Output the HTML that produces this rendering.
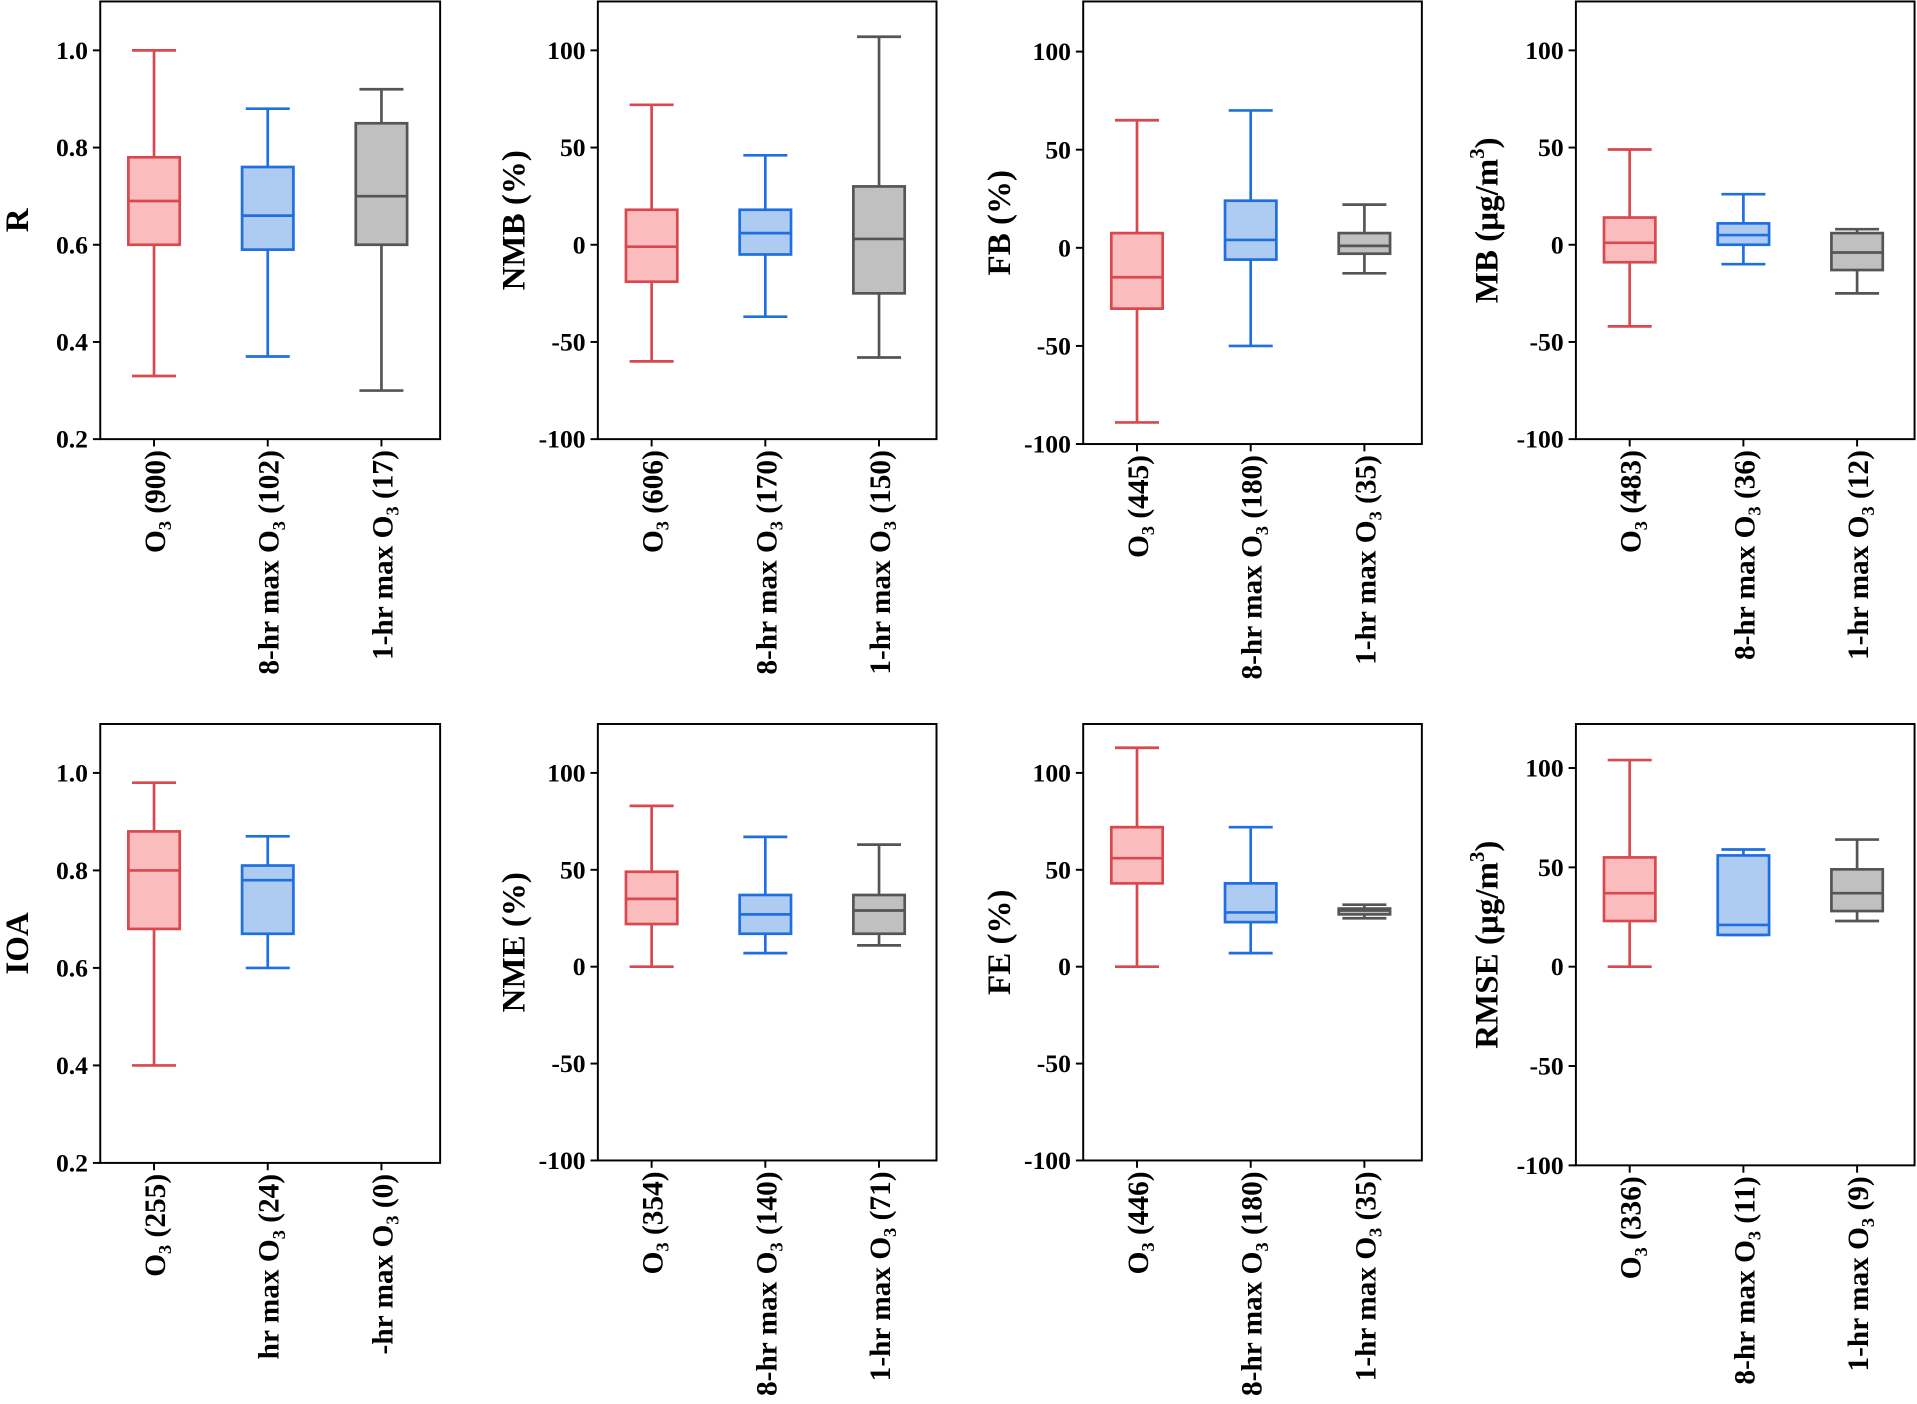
<!DOCTYPE html>
<html><head><meta charset="utf-8"><style>
html,body{margin:0;padding:0;background:#fff;}
svg{display:block;}
text{font-family:"Liberation Serif","Times New Roman",serif;font-weight:bold;fill:#000;}
</style></head><body>
<svg id="fig" width="1917" height="1404" viewBox="0 0 1568 1148" xmlns="http://www.w3.org/2000/svg"></svg>
<script>
// ---- data ----
const panelTitles = ["R","NMB (%)","FB (%)","MB (\u00b5g/m3)","IOA","NME (%)","FE (%)","RMSE (\u00b5g/m3)"];
const categoryNames = ["O3","8-hr max O3","1-hr max O3"];
const countsTop = [[900,102,17],[606,170,150],[445,180,35],[483,36,12]];
const countsBottom = [[255,24,0],[354,140,71],[446,180,35],[336,11,9]];
// [min, q1, median, q3, max] per category; null = no data
const statsR    = [[0.33,0.60,0.69,0.78,1.00],[0.37,0.59,0.66,0.76,0.88],[0.30,0.60,0.70,0.85,0.92]];
const statsNMB  = [[-60,-19,-1,18,72],[-37,-5,6,18,46],[-58,-25,3,30,107]];
const statsFB   = [[-89,-31,-15,7.5,65],[-50,-6,4,24,70],[-13,-3,1,7.5,22]];
const statsMB   = [[-42,-9,1,14,49],[-10,0,5,11,26],[-25,-13,-4,6,8]];
const statsIOA  = [[0.40,0.68,0.80,0.88,0.98],[0.60,0.67,0.78,0.81,0.87],null];
const statsNME  = [[0,22,35,49,83],[7,17,27,37,67],[11,17,29,37,63]];
const statsFE   = [[0,43,56,72,113],[7,23,28,43,72],[25,27,29,30,32]];
const statsRMSE = [[0,23,37,55,104],[16,16,21,56,59],[23,28,37,49,64]];
const ticksR = [0.2,0.4,0.6,0.8,1.0];
const ticksPct = [-100,-50,0,50,100];
</script>
<script>
const NS="http://www.w3.org/2000/svg";
const svg=document.getElementById('fig');
const colors=[{s:"#d9484e",f:"#fbbcbe"},{s:"#1f6fe0",f:"#aecbf2"},{s:"#555555",f:"#c0c0c0"}];
function mk(tag,attrs,parent){const e=document.createElementNS(NS,tag);for(const k in attrs)e.setAttribute(k,attrs[k]);(parent||svg).appendChild(e);return e;}
const panels=[
 {x0:82,x1:360,y0:1,y1:359,v0:0.2,v1:1.0,py0:359,py1:41,ticks:ticksR,dec:1,st:statsR,t:0,row:0},
 {x0:489,x1:766,y0:1,y1:359,v0:-100,v1:100,py0:359,py1:41,ticks:ticksPct,dec:0,st:statsNMB,t:1,row:0},
 {x0:886,x1:1163,y0:1,y1:363,v0:-100,v1:100,py0:363,py1:42,ticks:ticksPct,dec:0,st:statsFB,t:2,row:0},
 {x0:1289,x1:1566,y0:1,y1:359,v0:-100,v1:100,py0:359,py1:41,ticks:ticksPct,dec:0,st:statsMB,t:3,row:0},
 {x0:82,x1:360,y0:592,y1:951,v0:0.2,v1:1.0,py0:951,py1:632,ticks:ticksR,dec:1,st:statsIOA,t:4,row:1},
 {x0:489,x1:766,y0:592,y1:949,v0:-100,v1:100,py0:949,py1:632,ticks:ticksPct,dec:0,st:statsNME,t:5,row:1},
 {x0:886,x1:1163,y0:592,y1:949,v0:-100,v1:100,py0:949,py1:632,ticks:ticksPct,dec:0,st:statsFE,t:6,row:1},
 {x0:1289,x1:1566,y0:592,y1:953,v0:-100,v1:100,py0:953,py1:628,ticks:ticksPct,dec:0,st:statsRMSE,t:7,row:1}
];
const titleX=[12,418,815,1214,12,418,815,1214];
panels.forEach((p,pi)=>{
  const g=mk('g',{});
  
  
  const y=v=>p.py0+(v-p.v0)/(p.v1-p.v0)*(p.py1-p.py0);
  const cx=i=>p.x0+44+i*93;
  p.st.forEach((s,i)=>{
    if(!s)return;
    const c=colors[i],hw=21,cap=18;
    const bg=mk('g',{stroke:c.s,'stroke-width':2.2,fill:'none'},g);
    
    
    mk('line',{x1:cx(i),x2:cx(i),y1:y(s[0]),y2:y(s[1])},bg);
    mk('line',{x1:cx(i),x2:cx(i),y1:y(s[3]),y2:y(s[4])},bg);
    mk('line',{x1:cx(i)-cap,x2:cx(i)+cap,y1:y(s[0]),y2:y(s[0])},bg);
    mk('line',{x1:cx(i)-cap,x2:cx(i)+cap,y1:y(s[4]),y2:y(s[4])},bg);
    mk('rect',{x:cx(i)-hw,y:y(s[3]),width:2*hw,height:Math.max(0.5,y(s[1])-y(s[3])),fill:c.f},bg);
    mk('line',{x1:cx(i)-hw,x2:cx(i)+hw,y1:y(s[2]),y2:y(s[2])},bg);
  });
  const fr=mk('rect',{x:p.x0,y:p.y0,width:p.x1-p.x0,height:p.y1-p.y0,fill:'none',stroke:'#000','stroke-width':1.6},g);
  
  
  p.ticks.forEach(t=>{
    mk('line',{x1:p.x0-6,x2:p.x0,y1:y(t),y2:y(t),stroke:'#000','stroke-width':1.6},g);
    const tx=mk('text',{x:p.x0-10,y:y(t)+7,'text-anchor':'end','font-size':21},g);
    tx.textContent=p.dec?t.toFixed(1):String(t);
    
    
  });
  const counts=p.row===0?countsTop[pi]:countsBottom[pi-4];
  categoryNames.forEach((n,i)=>{
    mk('line',{x1:cx(i),x2:cx(i),y1:p.y1,y2:p.y1+6,stroke:'#000','stroke-width':1.6},g);
    const lx=cx(i)+9,ly=p.y1+9;
    const tx=mk('text',{x:lx,y:ly,'text-anchor':'end','font-size':24,transform:`rotate(-90 ${lx} ${ly})`},g);
    
    
    let pre=n.replace('O3','');
    if(pi===4&&i>0)pre=pre.replace(/^8-|^1-/,'').replace(/^h/,i===1?'h':'-h');
    const a=mk('tspan',{},tx);a.textContent=pre+'O';
    const b=mk('tspan',{'font-size':15,dy:5},tx);b.textContent='3';
    const d=mk('tspan',{dy:-5},tx);d.textContent=' ('+counts[i]+')';
  });
  const tyc=(p.y0+p.y1)/2, tx0=titleX[pi]+11;
  const tt=mk('text',{x:tx0,y:tyc,'text-anchor':'middle','font-size':27,transform:`rotate(-90 ${tx0} ${tyc})`},g);
  
  
  const title=panelTitles[p.t];
  if(title.includes('m3')){
    const [pre]=title.split('m3');
    const a=mk('tspan',{},tt);a.textContent=pre+'m';
    const b=mk('tspan',{'font-size':17,dy:-11},tt);b.textContent='3';
    const d=mk('tspan',{dy:11},tt);d.textContent=')';
  } else tt.textContent=title;
});
</script>
</body></html>
